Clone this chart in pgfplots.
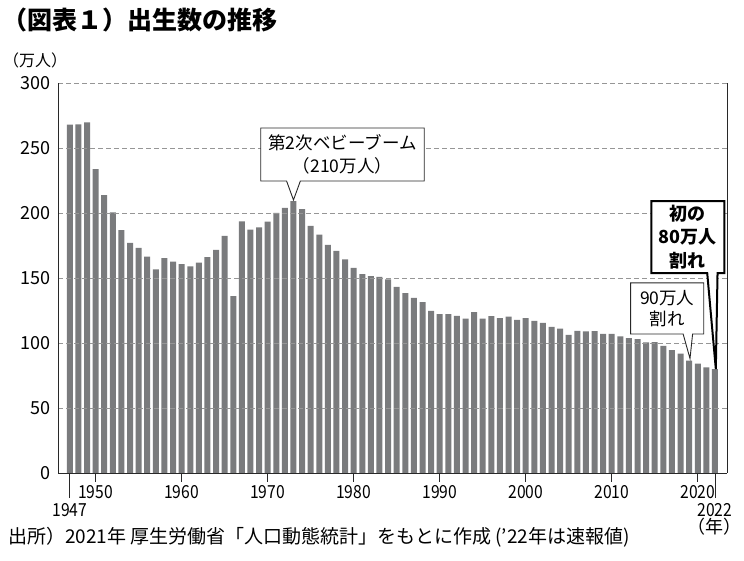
\documentclass[border=0pt]{standalone}
\usepackage{fontspec}
\setmainfont{Noto Sans CJK JP}
\usepackage{graphicx}
\usepackage{pgfplots}
\usetikzlibrary{calc}
\pgfplotsset{compat=1.18}
\definecolor{barc}{RGB}{122,123,125}
\definecolor{gridc}{RGB}{150,150,150}
\definecolor{axc}{RGB}{40,40,40}
\newcommand\xl[1]{\scalebox{0.87}[1]{#1}}
\begin{document}
\begin{tikzpicture}[x=1pt,y=1pt]
\useasboundingbox (0,0) rectangle (744,561);
\node[anchor=west,inner sep=0pt,font=\fontsize{25}{28}\selectfont\bfseries] at (2,541) {（図表１）出生数の推移};
\node[anchor=west,inner sep=0pt,font=\fontsize{16}{18}\selectfont] at (3,501) {（万人）};
\node[anchor=west,inner sep=0pt,font=\fontsize{19}{21}\selectfont] at (8,24) {出所）2021年 厚生労働省「人口動態統計」をもとに作成 ('22年は速報値)};
\begin{axis}[
  at={(58.3pt,88pt)}, anchor=south west, scale only axis,
  width=668.7pt, height=390pt,
  xmin=1945.66, xmax=2023.4, ymin=0, ymax=300,
  axis x line=bottom, axis y line=left,
  axis line style={-, draw=axc, line width=0.9pt},
  axis on top,
  ybar, bar width=6pt,
  ytick={0,50,...,300},
  ytick style={draw=none},
  ymajorgrids, grid style={dashed, gridc, line width=0.9pt, dash pattern=on 5pt off 3pt},
  xtick={1950,1960,1970,1980,1990,2000,2010,2020},
  xticklabels={\xl{1950},\xl{1960},\xl{1970},\xl{1980},\xl{1990},\xl{2000},\xl{2010},\xl{2020}},
  xtick align=outside,
  major tick length=9pt,
  xtick style={draw=axc, line width=0.9pt},
  extra x ticks={1947,2022},
  extra x tick labels={\xl{1947},{\xl{2022}\\[-3pt]（年）}},
  extra x tick style={major tick length=25pt, xticklabel style={align=center, yshift=-2pt}},
  ticklabel style={font=\fontsize{18}{20}\selectfont, text=black},
  /pgf/number format/assume math mode=true,
  clip=false,
]
\addplot[fill=barc, draw=none] coordinates {
(1947,267.9) (1948,268.2) (1949,269.7) (1950,233.8) (1951,213.8) (1952,200.5)
(1953,186.8) (1954,177.0) (1955,173.1) (1956,166.5) (1957,156.7) (1958,165.3)
(1959,162.6) (1960,160.6) (1961,158.9) (1962,161.9) (1963,166.0) (1964,171.7)
(1965,182.4) (1966,136.1) (1967,193.6) (1968,187.2) (1969,189.0) (1970,193.4)
(1971,200.1) (1972,203.9) (1973,209.2) (1974,203.0) (1975,190.1) (1976,183.3)
(1977,175.5) (1978,170.9) (1979,164.3) (1980,157.7) (1981,152.9) (1982,151.5)
(1983,150.9) (1984,149.0) (1985,143.2) (1986,138.3) (1987,134.7) (1988,131.4)
(1989,124.7) (1990,122.2) (1991,122.3) (1992,120.9) (1993,118.8) (1994,123.8)
(1995,118.7) (1996,120.7) (1997,119.2) (1998,120.3) (1999,117.8) (2000,119.1)
(2001,117.1) (2002,115.4) (2003,112.4) (2004,111.1) (2005,106.3) (2006,109.3)
(2007,109.0) (2008,109.1) (2009,107.0) (2010,107.1) (2011,105.1) (2012,103.7)
(2013,103.0) (2014,100.4) (2015,100.6) (2016,97.7) (2017,94.6) (2018,91.8)
(2019,86.5) (2020,84.1) (2021,81.2) (2022,79.9)
};
\draw[axc, line width=0.9pt] (rel axis cs:1,0) -- (rel axis cs:1,1);
% callout coordinates
\coordinate (a1) at (axis cs:1969.2,265.4);
\coordinate (a2) at (axis cs:1988.2,224.6);
\coordinate (a3) at (axis cs:1972.2,224.6);
\coordinate (a4) at (axis cs:1973.8,224.6);
\coordinate (at) at (axis cs:1973,210);
\coordinate (b1) at (axis cs:2012.2,146.2);
\coordinate (b2) at (axis cs:2020.7,106.9);
\coordinate (b3) at (axis cs:2018.3,106.9);
\coordinate (b4) at (axis cs:2019.4,106.9);
\coordinate (bt) at (axis cs:2019.1,88);
\coordinate (c1) at (axis cs:2014.6,209.2);
\coordinate (c2) at (axis cs:2023.1,153.8);
\coordinate (c3) at (axis cs:2021.1,153.8);
\coordinate (c4) at (axis cs:2022.3,153.8);
\coordinate (ct) at (axis cs:2022.1,80);
\end{axis}
\draw[fill=white, draw=axc, line width=0.9pt, line join=miter]
  (a1) -- (a1 -| a2) -- (a2) -- (a4) -- (at) -- (a3) -- (a2 -| a1) -- cycle;
\node[align=center, inner sep=0pt, font=\fontsize{17.5}{22.5}\selectfont] at ($(a1)!0.5!(a2)$) {第2次ベビーブーム\\（210万人）};
\draw[fill=white, draw=axc, line width=0.9pt, line join=miter]
  (b1) -- (b1 -| b2) -- (b2) -- (b4) -- (bt) -- (b3) -- (b2 -| b1) -- cycle;
\node[align=center, inner sep=0pt, font=\fontsize{17.5}{20.5}\selectfont] at ($(b1)!0.5!(b2)$) {90万人\\割れ};
\draw[fill=white, draw=black, line width=2pt, line join=miter]
  (c1) -- (c1 -| c2) -- (c2) -- (c4) -- (ct) -- (c3) -- (c2 -| c1) -- cycle;
\node[align=center, inner sep=0pt, font=\fontsize{18}{23.5}\selectfont\bfseries] at ($(c1)!0.5!(c2)$) {初の\\80万人\\割れ};
\end{tikzpicture}
\end{document}
